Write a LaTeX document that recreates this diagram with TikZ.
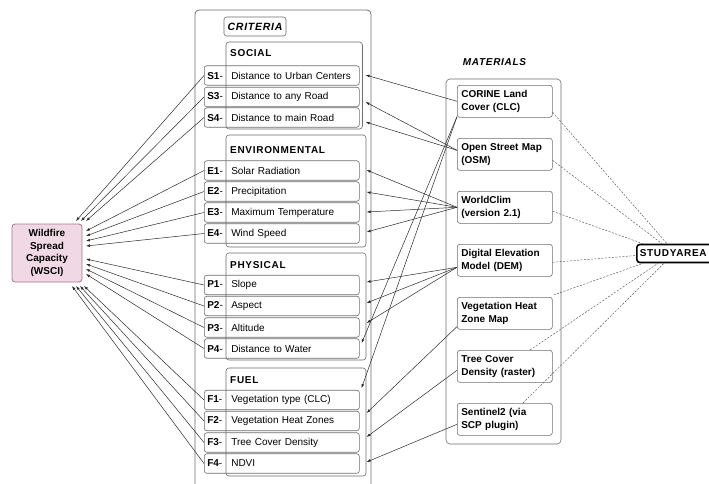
\documentclass[tikz,border=0pt]{standalone}
\usepackage{fontspec}
\setmainfont{Liberation Sans}
\newfontfamily\spaced[LetterSpace=7]{Liberation Sans}
\usetikzlibrary{arrows.meta,calc}
\definecolor{boxgray}{HTML}{6E6E6E}
\definecolor{linegray}{HTML}{2A2A2A}
\definecolor{dashgray}{HTML}{555555}
\definecolor{wsfill}{HTML}{F1D8E5}
\definecolor{wsdraw}{HTML}{A8738F}
\tikzset{
  itembox/.style={draw=boxgray, line width=0.6pt, rounded corners=2.5pt, anchor=west,
    minimum width=155pt, minimum height=19.5pt, text width=149pt, inner xsep=3pt, inner ysep=0pt,
    align=left, font=\fontsize{10}{12}\selectfont},
  groupbox/.style={draw=boxgray, line width=0.6pt, rounded corners=3pt},
  grouptitle/.style={anchor=west, inner sep=2pt, font=\spaced\bfseries\fontsize{10}{12}\selectfont},
  matbox/.style={draw=boxgray, line width=0.6pt, rounded corners=2.5pt, anchor=north west,
    minimum width=95pt, minimum height=32pt, text width=87pt, inner xsep=4pt, inner ysep=0pt,
    align=left, font=\bfseries\fontsize{10}{12.5}\selectfont},
  conn/.style={draw=linegray, line width=0.5pt, -{Latex[length=4pt,width=2.8pt]}},
  studyline/.style={draw=dashgray, line width=0.45pt, dash pattern=on 2pt off 1.5pt},
}
\newcommand{\itm}[2]{\makebox[24pt][l]{\textbf{#1}-}#2}
\begin{document}
\begin{tikzpicture}[x=1pt,y=-1pt]
\clip (0,0) rectangle (709,483);
\fill[white] (0,0) rectangle (709,483);

% criteria frame
\draw[boxgray, line width=0.8pt, rounded corners=4pt] (195,495) -- (195,10) -- (371,10) -- (371,495);
\node[draw=boxgray, line width=0.6pt, rounded corners=2.5pt, minimum width=62pt, minimum height=19pt, inner sep=0pt,
  font=\spaced\bfseries\itshape\fontsize{10.5}{12}\selectfont] (crit) at (255,26.5) {CRITERIA};

% group boxes
\draw[groupbox] (226,42) rectangle (362.5,129);
\draw[groupbox] (226,135) rectangle (366,247);
\draw[groupbox] (226,253) rectangle (366,360);
\draw[groupbox] (226,368) rectangle (366,476);
\node[grouptitle] (tsoc) at (228,53) {SOCIAL};
\node[grouptitle] (tenv) at (228,150) {ENVIRONMENTAL};
\node[grouptitle] (tphy) at (228,265) {PHYSICAL};
\node[grouptitle] (tfue) at (228,380) {FUEL};

% items
\node[itembox] (s1) at (204,75.5) {\itm{S1}{Distance to Urban Centers}};
\node[itembox] (s3) at (204,97) {\itm{S3}{Distance to any Road}};
\node[itembox] (s4) at (204,117.5) {\itm{S4}{Distance to main Road}};
\node[itembox] (e1) at (204,170.5) {\itm{E1}{Solar Radiation}};
\node[itembox] (e2) at (204,191.5) {\itm{E2}{Precipitation}};
\node[itembox] (e3) at (204,212.5) {\itm{E3}{Maximum Temperature}};
\node[itembox] (e4) at (204,233.5) {\itm{E4}{Wind Speed}};
\node[itembox] (p1) at (204,285) {\itm{P1}{Slope}};
\node[itembox] (p2) at (204,306) {\itm{P2}{Aspect}};
\node[itembox] (p3) at (204,327.5) {\itm{P3}{Altitude}};
\node[itembox] (p4) at (204,348.5) {\itm{P4}{Distance to Water}};
\node[itembox] (f1) at (204,400) {\itm{F1}{Vegetation type (CLC)}};
\node[itembox] (f2) at (204,421) {\itm{F2}{Vegetation Heat Zones}};
\node[itembox] (f3) at (204,442.5) {\itm{F3}{Tree Cover Density}};
\node[itembox] (f4) at (204,463.5) {\itm{F4}{NDVI}};

% WSCI
\node[draw=wsdraw, fill=wsfill, line width=0.8pt, rounded corners=3pt, minimum width=70pt, minimum height=58pt,
  inner sep=0pt, align=center, font=\bfseries\fontsize{10}{12.8}\selectfont] (wsci) at (47,253)
  {Wildfire\\Spread\\Capacity\\(WSCI)};

% arrow ends at WSCI
\coordinate (ws1) at (76,221); \coordinate (ws3) at (81,221); \coordinate (ws4) at (86,221);
\coordinate (we1) at (86,231); \coordinate (we2) at (86,236); \coordinate (we3) at (86,241); \coordinate (we4) at (86,246);
\coordinate (wp1) at (86,259); \coordinate (wp2) at (86,264); \coordinate (wp3) at (86,269); \coordinate (wp4) at (86,274);
\coordinate (wf1) at (84,286); \coordinate (wf2) at (80,286); \coordinate (wf3) at (76,286); \coordinate (wf4) at (72,286);
\foreach \n in {s1,s3,s4,e1,e2,e3,e4,p1,p2,p3,p4,f1,f2,f3,f4}{
  \draw[conn] (\n.west) -- (w\n);
}

% materials
\node[font=\spaced\bfseries\itshape\fontsize{10}{12}\selectfont] (mat) at (494.5,62) {MATERIALS};
\draw[boxgray, line width=0.6pt, rounded corners=4pt] (446,79) rectangle (561,444);
\node[matbox] (clc) at (457,85) {CORINE Land\\Cover (CLC)};
\node[matbox] (osm) at (457,138) {Open Street Map\\(OSM)};
\node[matbox] (wc) at (457,191) {WorldClim\\(version 2.1)};
\node[matbox] (dem) at (457,244) {Digital Elevation\\Model (DEM)};
\node[matbox] (veg) at (457,297) {Vegetation Heat\\Zone Map};
\node[matbox] (tcd) at (457,350) {Tree Cover\\Density (raster)};
\node[matbox] (s2) at (457,403) {Sentinel2 (via\\SCP plugin)};

% arrows materials -> criteria
\draw[conn] (clc.west) -- ($(s1.east)+(6,-0.5)$);
\draw[conn] ($(osm.west)+(0,-4)$) -- ($(s3.east)+(6,5)$);
\draw[conn] ($(osm.west)+(0,-4)$) -- ($(s4.east)+(6,4.5)$);
\draw[conn] (wc.west) -- ($(e1.east)+(7,-0.5)$);
\draw[conn] (wc.west) -- ($(e2.east)+(7,0.5)$);
\draw[conn] (wc.west) -- ($(e3.east)+(7,-0.5)$);
\draw[conn] (wc.west) -- ($(e4.east)+(7,-1.5)$);
\draw[conn] ($(dem.west)+(0,7)$) -- ($(p1.east)+(7,-3)$);
\draw[conn] ($(dem.west)+(0,7)$) -- ($(p2.east)+(7,-3)$);
\draw[conn] ($(dem.west)+(0,7)$) -- ($(p3.east)+(7,-4.5)$);
\draw[conn] ($(clc.south west)+(0,-1)$) -- ($(p4.east)+(2,-5.5)$);
\draw[conn] ($(clc.south west)+(0,-1)$) -- ($(f1.east)+(2,-12)$);
\draw[conn] ($(veg.south west)+(0,-3)$) -- ($(f2.east)+(7,-8)$);
\draw[conn] ($(tcd.west)+(0,4)$) -- ($(f3.east)+(7,-5.5)$);
\draw[conn] ($(s2.west)+(0,5)$) -- ($(f4.east)+(7,-1.5)$);

% study area
\node[draw=black, line width=1.6pt, rounded corners=3pt, anchor=west, minimum height=18pt, text width=104pt,
  inner xsep=3pt, inner ysep=0pt, align=left, font=\spaced\bfseries\fontsize{10}{12}\selectfont] (sa) at (636,253.5) {STUDYAREA};
\draw[studyline] ($(clc.east)+(0,11)$) -- ($(sa.north west)+(31,0)$);
\draw[studyline] ($(osm.east)+(0,6)$) -- ($(sa.north west)+(26,0)$);
\draw[studyline] ($(wc.east)+(0,4)$) -- ($(sa.north west)+(7,0)$);
\draw[studyline] ($(dem.east)+(0,2)$) -- ($(sa.west)+(0,2)$);
\draw[studyline] ($(veg.north east)+(1,-2)$) -- ($(sa.south west)+(7,0)$);
\draw[studyline] ($(tcd.north west)+(73,0)$) -- ($(sa.south west)+(22,0)$);
\draw[studyline] ($(s2.north west)+(66,0)$) -- ($(sa.south west)+(28,0)$);
\end{tikzpicture}
\end{document}
